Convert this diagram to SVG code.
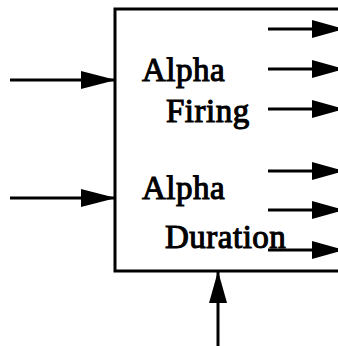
<svg xmlns="http://www.w3.org/2000/svg" width="338" height="346" viewBox="0 0 338 346">
<defs>
<style>
.box{fill:#fff;stroke:#000;stroke-width:3}
.lbl{font-family:"Liberation Serif","Times New Roman",serif;font-size:33px;letter-spacing:0.5px;fill:#000;stroke:#000;stroke-width:1.1}
.ln{stroke:#000;stroke-width:3;fill:none}
.in{marker-end:url(#ahL)}
.out{marker-end:url(#ahR)}
</style>
<marker id="ahL" markerUnits="userSpaceOnUse" viewBox="0 0 35 20" markerWidth="35" markerHeight="20" refX="35" refY="10" orient="auto">
<path d="M0,1 L35,10 L0,19 Z" fill="#000"/>
</marker>
<marker id="ahR" markerUnits="userSpaceOnUse" viewBox="0 0 32 20" markerWidth="32" markerHeight="20" refX="32" refY="10" orient="auto">
<path d="M0,1 L32,10 L0,19 Z" fill="#000"/>
</marker>
</defs>
<rect width="338" height="346" fill="#fff"/>
<g id="block">
<path class="box" d="M340,9 L115,9 L115,271 L340,271"/>
<text class="lbl" x="142" y="81">Alpha</text>
<text class="lbl" x="166" y="122">Firing</text>
<text class="lbl" x="142" y="199">Alpha</text>
<text class="lbl" x="165" y="248">Duration</text>
</g>
<g id="connectors">
<line class="ln in" x1="10" y1="80" x2="116" y2="80"/>
<line class="ln in" x1="10" y1="198" x2="116" y2="198"/>
<line class="ln out" x1="218" y1="346" x2="218" y2="271"/>
<line class="ln out" x1="268" y1="29" x2="344" y2="29"/>
<line class="ln out" x1="268" y1="69" x2="344" y2="69"/>
<line class="ln out" x1="268" y1="109" x2="344" y2="109"/>
<line class="ln out" x1="268" y1="171" x2="344" y2="171"/>
<line class="ln out" x1="268" y1="210" x2="344" y2="210"/>
<line class="ln out" x1="268" y1="250" x2="344" y2="250"/>
</g>
</svg>
